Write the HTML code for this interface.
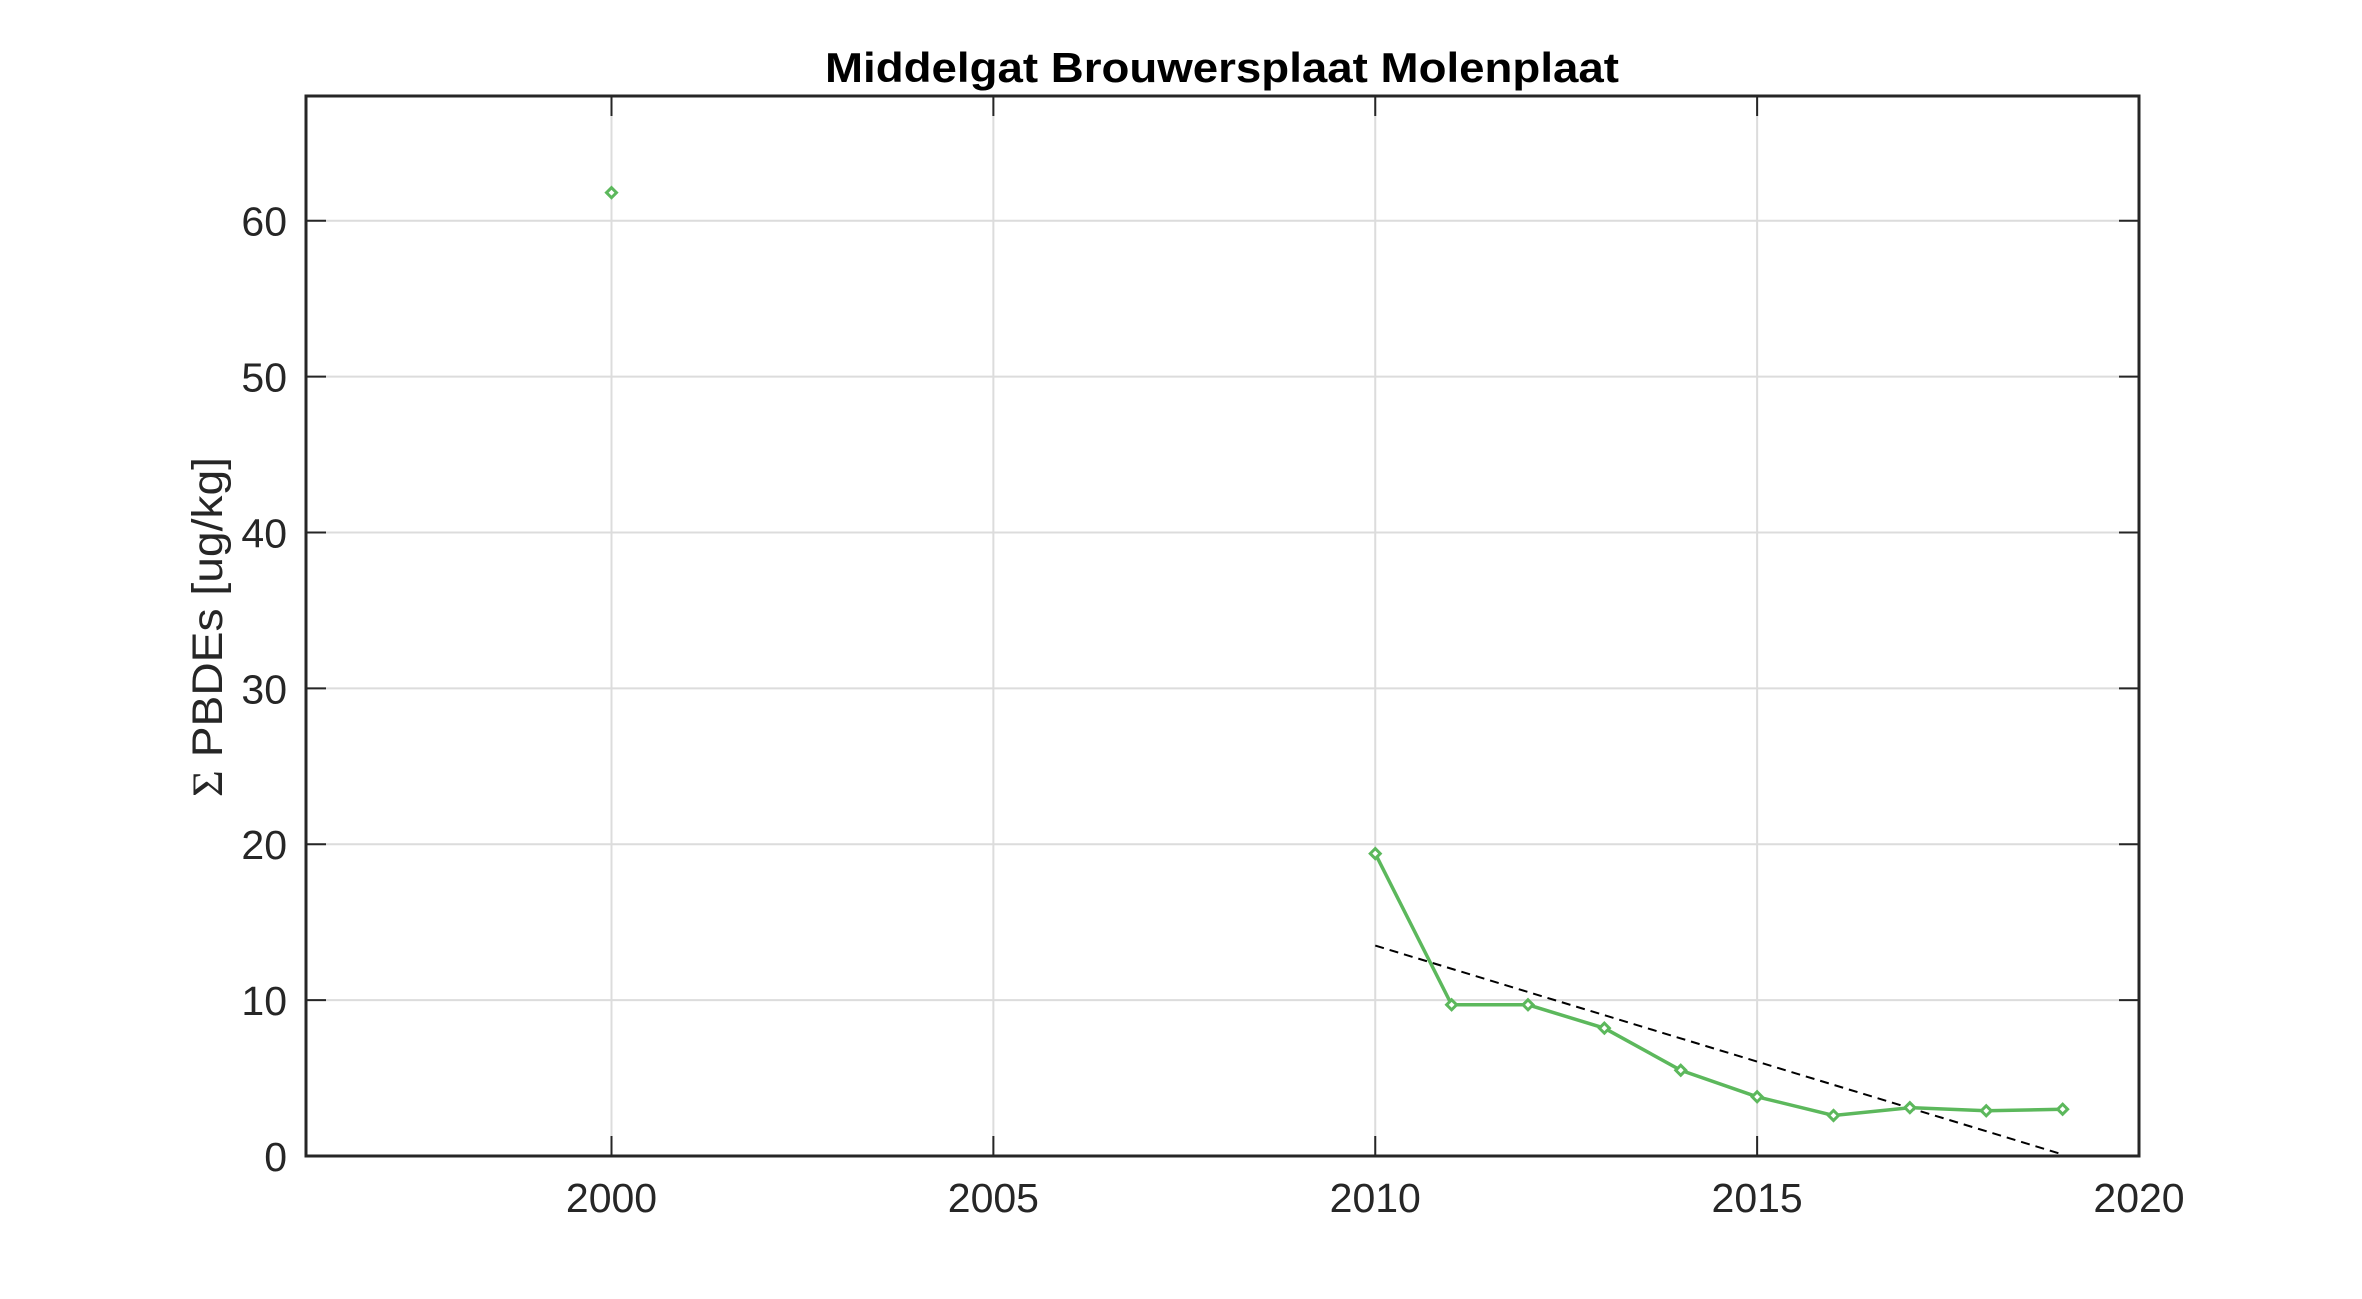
<!DOCTYPE html>
<html><head><meta charset="utf-8"><style>body{margin:0;background:#fff}svg{display:block}</style></head>
<body>
<svg id="chart" width="2362" height="1299" xmlns="http://www.w3.org/2000/svg" font-family="Liberation Sans, sans-serif">
<rect width="2362" height="1299" fill="#fff"/>
<text x="1222" y="82" text-anchor="middle" font-size="42" font-weight="bold" textLength="794" lengthAdjust="spacingAndGlyphs">Middelgat Brouwersplaat Molenplaat</text>
<text transform="translate(222,627) rotate(-90)" text-anchor="middle" font-size="43" fill="#262626" textLength="340" lengthAdjust="spacingAndGlyphs"><tspan font-family="Liberation Serif, serif">Σ</tspan> PBDEs [ug/kg]</text>
<g id="grid"></g><g id="axes"></g><g id="series"></g>
</svg>
<script>
const years=[2000,2010,2011,2012,2013,2014,2015,2016,2017,2018,2019];
const values=[61.8,19.4,9.7,9.7,8.2,5.5,3.8,2.6,3.1,2.9,3.0];
const trendYears=[2010,2019];
const trendValues=[13.5,0.1];
const xTicks=[2000,2005,2010,2015,2020];
const yTicks=[0,10,20,30,40,50,60];
const X0=306,X1=2139,Y0=1156,Y1=96,xmin=1996,xmax=2020,ymin=0,ymax=68;
const sx=v=>X0+(v-xmin)/(xmax-xmin)*(X1-X0);
const sy=v=>Y0-(v-ymin)/(ymax-ymin)*(Y0-Y1);
const NS='http://www.w3.org/2000/svg';
function mk(t,a,p){const e=document.createElementNS(NS,t);for(const k in a)e.setAttribute(k,a[k]);p.appendChild(e);return e;}
const g=document.getElementById('grid'),ax=document.getElementById('axes'),s=document.getElementById('series');
xTicks.forEach(t=>{const x=sx(t);
const l=mk('line',{x1:x,x2:x,y1:Y1,y2:Y0,stroke:'#dcdcdc','stroke-width':2},g);


mk('line',{x1:x,x2:x,y1:Y0,y2:Y0-20,stroke:'#262626','stroke-width':2},ax);
mk('line',{x1:x,x2:x,y1:Y1,y2:Y1+20,stroke:'#262626','stroke-width':2},ax);
const tx=mk('text',{x:x,y:Y0+56,'text-anchor':'middle','font-size':41,fill:'#262626'},ax);tx.textContent=t;

});
yTicks.forEach(t=>{const y=sy(t);
const l=mk('line',{x1:X0,x2:X1,y1:y,y2:y,stroke:'#dcdcdc','stroke-width':2},g);


mk('line',{x1:X0,x2:X0+20,y1:y,y2:y,stroke:'#262626','stroke-width':2},ax);
mk('line',{x1:X1,x2:X1-20,y1:y,y2:y,stroke:'#262626','stroke-width':2},ax);
const tx=mk('text',{x:X0-19,y:y+15,'text-anchor':'end','font-size':41,fill:'#262626'},ax);tx.textContent=t;

});
const fr=mk('rect',{x:X0,y:Y1,width:X1-X0,height:Y0-Y1,fill:'none',stroke:'#262626','stroke-width':3},ax);


const tl=mk('line',{x1:sx(trendYears[0]),y1:sy(trendValues[0]),x2:sx(trendYears[1]),y2:sy(trendValues[1]),stroke:'#000','stroke-width':2,'stroke-dasharray':'9,6'},s);


const pts=years.slice(1).map((y,i)=>sx(y)+','+sy(values[i+1])).join(' ');
const pl=mk('polyline',{points:pts,fill:'none',stroke:'#5cb85c','stroke-width':3.5},s);


years.forEach((y,i)=>{const x=sx(y),v=sy(values[i]);
const m=mk('polygon',{points:`${x},${v-5} ${x+5},${v} ${x},${v+5} ${x-5},${v}`,fill:'#fff',stroke:'#5cb85c','stroke-width':3},s);

});
</script>
</body></html>
